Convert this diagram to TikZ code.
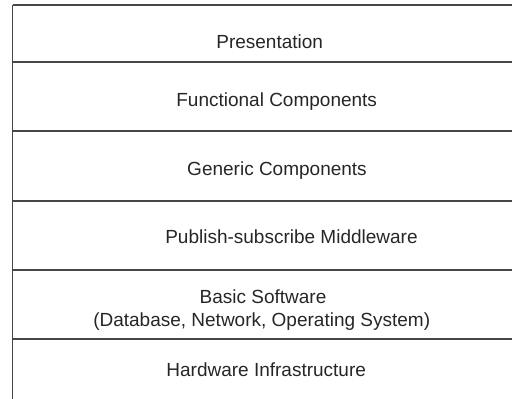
\documentclass[tikz,border=0pt]{standalone}
\usepackage{fontspec}
\setmainfont{Liberation Sans}
\begin{document}
\begin{tikzpicture}[x=1pt,y=-1pt,
  layer/.style={font=\fontsize{19}{22}\selectfont, text=black!85, inner sep=0pt, anchor=base, align=center},
  rule/.style={draw=black!72, line width=1.3pt}]
\useasboundingbox (0,0) rectangle (512,399);
% frame
\draw[rule] (12.5,5) -- (12.5,399);
\foreach \yy in {5,62,131,201,270,339}{
  \draw[rule] (12.5,\yy) -- (512,\yy);
}
\node[layer] (pres) at (269.7,48.3) {Presentation};
\node[layer] (func) at (276.7,106.3) {Functional Components};
\node[layer] (gen) at (277,175) {Generic Components};
\node[layer] (pubsub) at (291.5,243.3) {Publish-subscribe Middleware};
\node[layer] (basic) at (263,303) {Basic Software};
\node[layer] (basicsub) at (261.7,326) {(Database, Network, Operating System)};
\node[layer] (hw) at (266.2,376.5) {Hardware Infrastructure};
\end{tikzpicture}
\end{document}
